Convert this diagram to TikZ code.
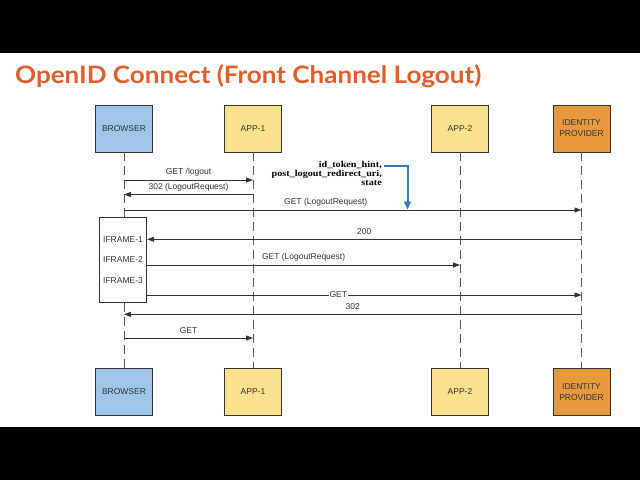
\documentclass[tikz,border=0pt]{standalone}
\usepackage{fontspec}
\setmainfont{Liberation Sans}
\newfontfamily\titlefont[FakeStretch=1.085]{Lato}
\newfontfamily\annfont[FakeStretch=1.13]{Liberation Serif}
\usetikzlibrary{arrows.meta,calc}
\definecolor{browserblue}{HTML}{9FC5E8}
\definecolor{appyellow}{HTML}{F9E18E}
\definecolor{idporange}{HTML}{E8993B}
\definecolor{titleorange}{HTML}{E05E2B}
\definecolor{linegray}{HTML}{333333}
\definecolor{lifegray}{HTML}{555555}
\definecolor{annblue}{HTML}{2E7DBE}
\tikzset{
  actor/.style={draw=linegray, line width=0.9pt, minimum width=57pt, minimum height=47pt,
    inner sep=0pt, align=center, text=linegray, font=\fontsize{8.5}{11}\selectfont},
  life/.style={draw=lifegray, line width=0.9pt, dash pattern=on 9pt off 5pt},
  msg/.style={draw=linegray, line width=0.85pt, -{Triangle[length=7pt,width=5pt]}},
  lbl/.style={text=linegray, font=\fontsize{8.5}{10}\selectfont, yshift=7.5pt},
  onlbl/.style={text=linegray, font=\fontsize{8.5}{10}\selectfont, fill=white, inner sep=1pt},
  iframebox/.style={draw=linegray, line width=0.9pt, fill=white, minimum width=47.4pt,
    minimum height=85pt, inner sep=0pt},
  iflbl/.style={text=linegray, font=\fontsize{8.5}{10}\selectfont},
  bluearr/.style={draw=annblue, line width=2pt, -{Triangle[length=8pt,width=7pt]}}
}
\begin{document}
\begin{tikzpicture}[x=1pt,y=-1pt]
\useasboundingbox (0,0) rectangle (640,480);
\fill[black] (0,0) rectangle (640,52.5);
\fill[black] (0,426.7) rectangle (640,480);
\node[anchor=base west, text=titleorange, font=\titlefont\bfseries\fontsize{24}{28}\selectfont, inner sep=0pt]
  (title) at (15,83.5) {OpenID Connect (Front Channel Logout)};
% actors top
\node[actor, fill=browserblue] (bt) at (124,128.5) {BROWSER};
\node[actor, fill=appyellow] (a1t) at (253,128.5) {APP-1};
\node[actor, fill=appyellow] (a2t) at (460,128.5) {APP-2};
\node[actor, fill=idporange] (it) at (581.5,128.5) {IDENTITY\\PROVIDER};
% actors bottom
\node[actor, fill=browserblue] (bb) at (124,392) {BROWSER};
\node[actor, fill=appyellow] (a1b) at (253,392) {APP-1};
\node[actor, fill=appyellow] (a2b) at (460,392) {APP-2};
\node[actor, fill=idporange] (ib) at (581.5,392) {IDENTITY\\PROVIDER};
% iframe box
\node[iframebox] (ifr) at (123,259.8) {};
\node[iflbl] (if1) at (123,239.3) {IFRAME-1};
\node[iflbl] (if2) at (123,259.8) {IFRAME-2};
\node[iflbl] (if3) at (123,280.3) {IFRAME-3};
% lifelines
\draw[life] (bt.south) -- (bt.south |- ifr.north);
\draw[life] (bb.north |- ifr.south) -- (bb.north);
\draw[life] (a1t.south) -- (a1b.north);
\draw[life] (a2t.south) -- (a2b.north);
\draw[life] (it.south) -- (ib.north);
% message levels
\coordinate (y1) at (0,180);
\coordinate (y2) at (0,194.5);
\coordinate (y3) at (0,210);
\coordinate (y4) at (0,239.3);
\coordinate (y5) at (0,265);
\coordinate (y6) at (0,295);
\coordinate (y7) at (0,314.3);
\coordinate (y8) at (0,338);
\draw[msg] (bt |- y1) -- node[lbl] {GET /logout} (a1t |- y1);
\draw[msg] (a1t |- y2) -- node[lbl] {302 (LogoutRequest)} (bt |- y2);
\draw[msg] (bt |- y3) -- node[lbl, pos=0.441] {GET (LogoutRequest)} (it |- y3);
\draw[msg] (it |- y4) -- node[lbl] {200} (ifr.east |- y4);
\draw[msg] (ifr.east |- y5) -- node[lbl] {GET (LogoutRequest)} (a2t |- y5);
\draw[msg] (ifr.east |- y6) -- node[onlbl, pos=0.44] {GET} (it |- y6);
\draw[msg] (it |- y7) -- node[lbl] {302} (bt |- y7);
\draw[msg] (bt |- y8) -- node[lbl] {GET} (a1t |- y8);
% annotation
\node[anchor=north east, align=right, inner sep=0pt, text=black,
  font=\annfont\bfseries\fontsize{9}{9}\selectfont] (note) at (382,161.5)
  {id\_token\_hint,\\post\_logout\_redirect\_uri,\\state};
\coordinate (tipB) at (407.5,209.5);
\draw[bluearr] ($(note.north east)+(2,4)$) -| (tipB);
\end{tikzpicture}
\end{document}
